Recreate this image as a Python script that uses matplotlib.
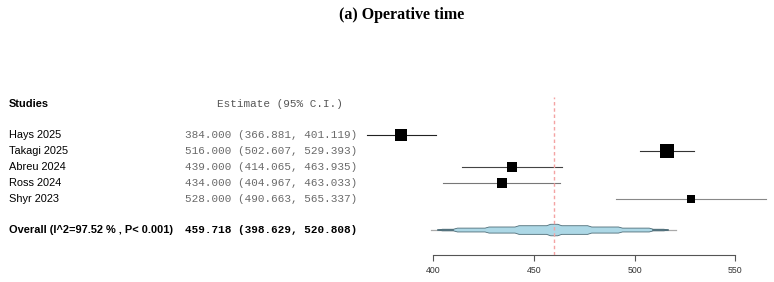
"""
Forest plot - (a) Operative time
"""

import numpy as np
import matplotlib.pyplot as plt
from matplotlib.patches import Polygon

# ---------------------------------------------------------------------------
# Data
# ---------------------------------------------------------------------------

studies   = ["Hays 2025", "Takagi 2025", "Abreu 2024", "Ross 2024", "Shyr 2023"]
estimates = [384.000, 516.000, 439.000, 434.000, 528.000]
ci_low    = [366.881, 502.607, 414.065, 404.967, 490.663]
ci_high   = [401.119, 529.393, 463.935, 463.033, 565.337]
weights   = [24.5, 31.6, 17.9, 15.4, 10.6]

overall_est  = 459.718
overall_low  = 398.629
overall_high = 520.808
overall_label = "Overall (I^2=97.52 % , P< 0.001)"

# stepped bands of the overall "spindle" (lower, upper), outer to inner
band_low  = [402.5, 410.0, 425.7, 440.6, 456.3]
band_high = [516.6, 509.3, 494.0, 478.7, 463.8]

x_ticks = [400, 450, 500, 550]

# ---------------------------------------------------------------------------
# Figure layout (pixel based, 774 x 282)
# ---------------------------------------------------------------------------

W, H = 774, 282
fig = plt.figure(figsize=(W / 100, H / 100), dpi=100)

def fx(px):
    return px / W

def fy(py):
    return 1 - py / H

# axes spans x 340..774 px, y 97..255 px
ax = fig.add_axes([fx(340), fy(255), fx(774 - 340), (255 - 97) / H])
ax.set_xlim(353.6, 569.3)
ax.set_ylim(8.5, -1.375)

for s in ["top", "right", "left"]:
    ax.spines[s].set_visible(False)
ax.spines["bottom"].set_bounds(x_ticks[0], x_ticks[-1])
ax.spines["bottom"].set_color("#555555")
ax.spines["bottom"].set_linewidth(0.8)
ax.set_yticks([])
ax.set_xticks(x_ticks)
ax.tick_params(axis="x", length=4, width=0.8, color="#555555",
               labelsize=6.3, labelcolor="#333333", pad=4)
for lab in ax.get_xticklabels():
    lab.set_family("Liberation Sans")

# reference line at pooled estimate
ax.axvline(overall_est, color="#f4a3a3", linestyle=(0, (2.5, 2)), linewidth=1.0, zorder=4)

# study rows
ci_colors = ["#222222", "#333333", "#444444", "#777777", "#888888"]
rows = np.arange(1, len(studies) + 1)
w_max = max(weights)
for i, y in enumerate(rows):
    ax.plot([ci_low[i], ci_high[i]], [y, y], color=ci_colors[i], linewidth=0.8, zorder=2)
    side_px = 13.3 * np.sqrt(weights[i] / w_max)
    ax.plot(estimates[i], y, marker="s", color="black",
            markersize=side_px * 0.72, markeredgewidth=0, zorder=3)

# overall spindle: one stepped outline built from the bands
y_ov = len(studies) + 1.94
ax.plot([overall_low, overall_high], [y_ov, y_ov], color="#aaaaaa", linewidth=0.9, zorder=2)
half_h = [0.05, 0.12, 0.19, 0.27, 0.36]   # in row units (16 px per row)
t = 2.0
top_left = []
prev_h = 0.0
for lo, hh in zip(band_low, half_h):
    top_left += [(lo, y_ov - prev_h), (lo + t, y_ov - hh)]
    prev_h = hh
top_right = []
prev_h = 0.0
for hi, hh in zip(band_high, half_h):
    top_right += [(hi, y_ov - prev_h), (hi - t, y_ov - hh)]
    prev_h = hh
top = top_left + top_right[::-1]
bottom = [(x, 2 * y_ov - y) for x, y in top[::-1]]
ax.add_patch(Polygon(top + bottom, closed=True, facecolor="#add8e6",
                     edgecolor="#4f6d78", linewidth=0.6, zorder=3))
# thin outer bands look darker
ax.plot([band_low[0], band_low[1]], [y_ov, y_ov], color="#4f6d78", linewidth=1.2, zorder=3)
ax.plot([band_high[1], band_high[0]], [y_ov, y_ov], color="#4f6d78", linewidth=1.2, zorder=3)

# ---------------------------------------------------------------------------
# Text columns
# ---------------------------------------------------------------------------

sans = "Liberation Sans"
mono = "Liberation Mono"
fs = 7.9

fig.text(fx(402), fy(15), "(a) Operative time", ha="center", va="center",
         family="Liberation Serif", fontweight="bold", fontsize=11.5)

row_px = [135, 151, 167, 183, 199]
fig.text(fx(9), fy(104), "Studies", ha="left", va="center",
         family=sans, fontweight="bold", fontsize=fs)
fig.text(fx(280), fy(104), "Estimate (95% C.I.)", ha="center", va="center",
         family=mono, fontsize=fs, color="#555555")

for name, est, lo, hi, py in zip(studies, estimates, ci_low, ci_high, row_px):
    fig.text(fx(9), fy(py), name, ha="left", va="center", family=sans, fontsize=fs)
    fig.text(fx(185), fy(py), f"{est:.3f} ({lo:.3f}, {hi:.3f})", ha="left",
             va="center", family=mono, fontsize=fs, color="#6a6a6a")

fig.text(fx(9), fy(230), overall_label, ha="left", va="center",
         family=sans, fontweight="bold", fontsize=fs)
fig.text(fx(185), fy(230), f"{overall_est:.3f} ({overall_low:.3f}, {overall_high:.3f})",
         ha="left", va="center", family=mono, fontweight="bold", fontsize=fs)

plt.savefig("out.png", dpi=100)
